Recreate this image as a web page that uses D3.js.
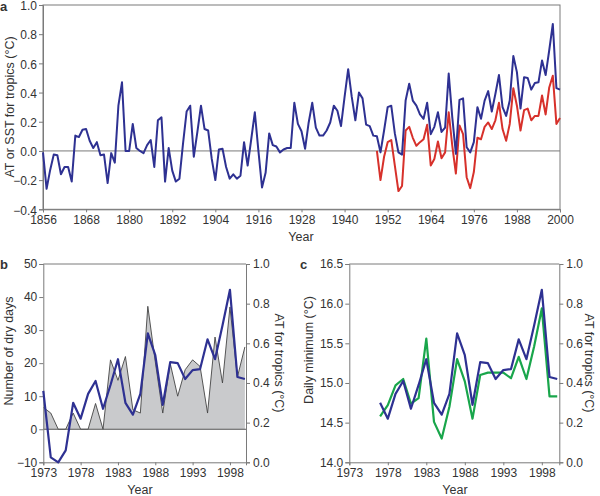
<!DOCTYPE html>
<html><head><meta charset="utf-8">
<script src="https://cdn.jsdelivr.net/npm/d3@7"></script>
<style>
body{margin:0;background:#fff;}
text{font-family:"Liberation Sans",Arial,sans-serif;fill:#333;}
</style></head>
<body><svg id="c" width="600" height="496"></svg>
<script>
// ---- Data ----
const atStart = 1856;
const atValues = [
 -0.01,-0.26,-0.13,-0.025,-0.03,-0.16,-0.11,-0.11,-0.21,0.105, // 1856-1865
 0.095,0.145,0.15,0.07,0.02,0.06,-0.03,-0.025,-0.22,-0.015,    // 1866-1875
 -0.08,0.31,0.47,0.00,0.00,0.185,0.02,0.00,-0.015,0.04,        // 1876-1885
 0.075,-0.11,0.21,0.23,-0.21,0.02,-0.135,-0.21,-0.19,0.05,     // 1886-1895
 0.27,0.31,-0.04,0.13,0.31,0.15,0.14,-0.055,-0.20,0.01,        // 1896-1905
 0.015,-0.11,-0.19,-0.16,-0.19,-0.17,0.06,-0.10,0.08,0.265,    // 1906-1915
 0.0,-0.25,-0.15,0.12,0.04,0.03,-0.01,0.01,0.02,0.02,          // 1916-1925
 0.33,0.185,0.135,0.015,0.195,0.33,0.16,0.105,0.105,0.14,      // 1926-1935
 0.195,0.31,0.275,0.17,0.37,0.56,0.37,0.21,0.40,0.36,          // 1936-1945
 0.18,0.17,0.105,0.10,-0.01,0.14,0.30,0.31,0.12,-0.01,         // 1946-1955
 -0.025,0.345,0.46,0.345,0.31,0.25,0.22,0.33,0.115,0.165,      // 1956-1965
 0.265,0.13,0.16,0.53,0.23,-0.02,0.35,0.36,0.025,-0.01,        // 1966-1975
 0.06,0.30,0.22,0.345,0.41,0.27,0.39,0.52,0.30,0.24,           // 1976-1985
 0.345,0.65,0.54,0.29,0.505,0.50,0.42,0.465,0.47,0.62,         // 1986-1995
 0.52,0.69,0.87,0.43,0.42                                      // 1996-2000
];
const sstStart = 1949;
const sstValues = [
 0.0,-0.20,-0.04,0.06,0.075,-0.10,-0.275,-0.24,0.14,0.165,     // 1949-1958
 0.09,0.035,0.06,0.08,0.18,-0.10,-0.055,0.065,-0.05,-0.01,     // 1959-1968
 0.265,0.035,-0.155,0.175,0.115,-0.18,-0.255,-0.145,0.09,0.08, // 1969-1978
 0.165,0.195,0.15,0.21,0.33,0.15,0.07,0.185,0.43,0.31,         // 1979-1988
 0.14,0.28,0.29,0.21,0.24,0.24,0.38,0.25,0.435,0.515,          // 1989-1998
 0.185,0.225                                                   // 1999-2000
];
const dryStart = 1973;
const dryDays = [6.6,4.9,0,0,4.9,0,0,7.8,0,21,14.8,22,5.9,4.9,37.2,20.4,4.9,19.9,10,18,21,19,4.9,27.9,14,37,15.8,24.9];
const minStart = 1977;
const dailyMin = [14.58,14.72,14.97,15.05,14.74,14.81,15.56,14.51,14.30,14.70,15.30,15.02,14.55,15.10,15.13,15.13,15.13,15.06,15.33,15.05,15.46,15.94,14.83,14.83];

const aTicksX = [1856,1868,1880,1892,1904,1916,1928,1940,1952,1964,1976,1988,2000];
const aTicksY = [-0.4,-0.2,0,0.2,0.4,0.6,0.8,1.0];
const bcTicksX = [1973,1978,1983,1988,1993,1998];
const bTicksY = [-10,0,10,20,30,40,50];
const atTicksR = [0,0.2,0.4,0.6,0.8,1.0];
const cTicksY = [14.0,14.5,15.0,15.5,16.0,16.5];

const atSeries = atValues.map((v,i)=>({year:atStart+i, v}));
const sstSeries = sstValues.map((v,i)=>({year:sstStart+i, v}));
const drySeries = dryDays.map((v,i)=>({year:dryStart+i, v}));
const minSeries = dailyMin.map((v,i)=>({year:minStart+i, v}));

const BLUE="#2e3192", RED="#d7312b", GREEN="#19a64b", AXIS="#7a7a7a";
const svg = d3.select("#c");

function styleAxis(g){
  g.selectAll(".domain").attr("stroke",AXIS);
  g.selectAll(".tick line").attr("stroke",AXIS);
  g.selectAll(".tick text").style("font-size","12px").attr("fill","#333");
}
function fmt1(d){ return d3.format(".1f")(d).replace("-","\u2212"); }
function fmt0(d){ return String(d).replace("-","\u2212"); }

// ---- Panel a ----
{
  const x = d3.scaleLinear().domain([1856,2000]).range([43,560]);
  const y = d3.scaleLinear().domain([-0.4,1.0]).range([209.3,5]);
  const g = svg.append("g");
  g.append("rect").attr("x",43).attr("y",5).attr("width",517).attr("height",204.3)
    .attr("fill","none").attr("stroke",AXIS);
  g.append("line").attr("x1",43).attr("x2",560).attr("y1",y(0)).attr("y2",y(0)).attr("stroke",AXIS);
  g.append("g").attr("transform","translate(0,209.3)")
    .call(d3.axisBottom(x).tickValues(aTicksX).tickFormat(d3.format("d")).tickSize(3).tickPadding(3)).call(styleAxis);
  g.append("g").attr("transform","translate(43,0)")
    .call(d3.axisLeft(y).tickValues(aTicksY).tickFormat(fmt1).tickSize(4).tickPadding(2)).call(styleAxis)
    .selectAll(".tick text").attr("dy","0.4em");
  const line = d3.line().x(d=>x(d.year)).y(d=>y(d.v));
  g.append("path").datum(sstSeries).attr("d",line).attr("fill","none").attr("stroke",RED).attr("stroke-width",2).attr("stroke-linejoin","round");
  g.append("path").datum(atSeries).attr("d",line).attr("fill","none").attr("stroke",BLUE).attr("stroke-width",2).attr("stroke-linejoin","round");
  g.append("text").attr("x",301).attr("y",241).attr("text-anchor","middle").style("font-size","12.5px").text("Year");
  g.append("text").attr("transform","translate(14,107) rotate(-90)").attr("text-anchor","middle").style("font-size","12.5px").text("AT or SST for tropics (°C)");
  g.append("text").attr("x",0).attr("y",11).style("font-size","13px").style("font-weight","bold").attr("fill","#222").text("a");
}

// ---- Panel b ----
{
  const x = d3.scaleLinear().domain([1973,2000.15]).range([43.3,246]);
  const y = d3.scaleLinear().domain([-10,50]).range([462.3,264]);
  const yr = d3.scaleLinear().domain([0,1]).range([462.3,264]).clamp(true);
  const g = svg.append("g");
  const area = d3.area().x(d=>x(d.year)).y0(y(0)).y1(d=>y(d.v));
  g.append("path").datum(drySeries).attr("d",area).attr("fill","#c9cacc");
  g.append("path").datum(drySeries).attr("d",d3.line().x(d=>x(d.year)).y(d=>y(d.v))).attr("fill","none").attr("stroke","#444").attr("stroke-width",0.9);
  g.append("line").attr("x1",43.3).attr("x2",246).attr("y1",264).attr("y2",264).attr("stroke",AXIS);
  g.append("line").attr("x1",43.3).attr("x2",246).attr("y1",y(0)).attr("y2",y(0)).attr("stroke","#555");
  g.append("g").attr("transform","translate(0,462.3)")
    .call(d3.axisBottom(x).tickValues(bcTicksX).tickFormat(d3.format("d")).tickSize(3).tickPadding(3)).call(styleAxis);
  g.append("g").attr("transform","translate(43.3,0)")
    .call(d3.axisLeft(y).tickValues(bTicksY).tickFormat(fmt0).tickSize(4).tickPadding(2)).call(styleAxis);
  g.append("g").attr("transform","translate(246,0)")
    .call(d3.axisRight(yr).tickValues(atTicksR).tickFormat(fmt1).tickSize(4).tickPadding(3)).call(styleAxis);
  const sub = atSeries.filter(d=>d.year>=1973);
  g.append("path").datum(sub).attr("d",d3.line().x(d=>x(d.year)).y(d=>yr(d.v))).attr("fill","none").attr("stroke",BLUE).attr("stroke-width",2.2).attr("stroke-linejoin","round");
  g.append("text").attr("x",140).attr("y",494).attr("text-anchor","middle").style("font-size","12.5px").text("Year");
  g.append("text").attr("transform","translate(13,351) rotate(-90)").attr("text-anchor","middle").style("font-size","12.5px").text("Number of dry days");
  g.append("text").attr("transform","translate(275,363) rotate(90)").attr("text-anchor","middle").style("font-size","12.5px").text("AT for tropics (°C)");
  g.append("text").attr("x",0).attr("y",269).style("font-size","13px").style("font-weight","bold").attr("fill","#222").text("b");
}

// ---- Panel c ----
{
  const x = d3.scaleLinear().domain([1973,2000.27]).range([349.3,559.3]);
  const y = d3.scaleLinear().domain([14.0,16.5]).range([462.3,264]);
  const yr = d3.scaleLinear().domain([0,1]).range([462.3,264]);
  const g = svg.append("g");
  g.append("line").attr("x1",349.3).attr("x2",559.3).attr("y1",264).attr("y2",264).attr("stroke",AXIS);
  g.append("g").attr("transform","translate(0,462.3)")
    .call(d3.axisBottom(x).tickValues(bcTicksX).tickFormat(d3.format("d")).tickSize(3).tickPadding(3)).call(styleAxis);
  g.append("g").attr("transform","translate(349.3,0)")
    .call(d3.axisLeft(y).tickValues(cTicksY).tickFormat(d3.format(".1f")).tickSize(4).tickPadding(2)).call(styleAxis);
  g.append("g").attr("transform","translate(559.3,0)")
    .call(d3.axisRight(yr).tickValues(atTicksR).tickFormat(fmt1).tickSize(4).tickPadding(3)).call(styleAxis);
  g.append("path").datum(minSeries).attr("d",d3.line().x(d=>x(d.year)).y(d=>y(d.v))).attr("fill","none").attr("stroke",GREEN).attr("stroke-width",2.2).attr("stroke-linejoin","round");
  const sub = atSeries.filter(d=>d.year>=1977);
  g.append("path").datum(sub).attr("d",d3.line().x(d=>x(d.year)).y(d=>yr(d.v))).attr("fill","none").attr("stroke",BLUE).attr("stroke-width",2.2).attr("stroke-linejoin","round");
  g.append("text").attr("x",455).attr("y",494).attr("text-anchor","middle").style("font-size","12.5px").text("Year");
  g.append("text").attr("transform","translate(313,350) rotate(-90)").attr("text-anchor","middle").style("font-size","12.5px").text("Daily minimum (°C)");
  g.append("text").attr("transform","translate(585,363) rotate(90)").attr("text-anchor","middle").style("font-size","12.5px").text("AT for tropics (°C)");
  g.append("text").attr("x",300).attr("y",269).style("font-size","13px").style("font-weight","bold").attr("fill","#222").text("c");
}
</script></body></html>
